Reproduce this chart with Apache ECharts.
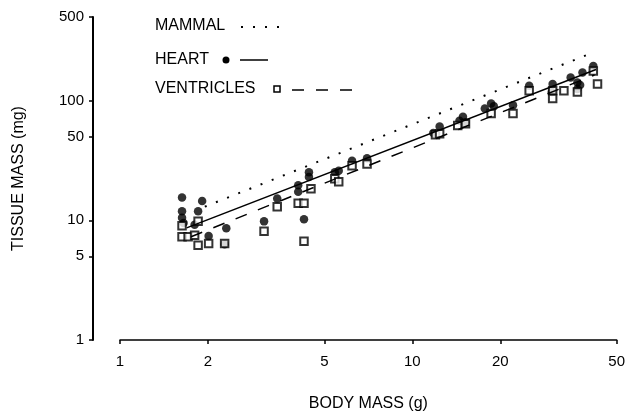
<!DOCTYPE html>
<html>
<head>
<meta charset="utf-8">
<script src="https://cdn.jsdelivr.net/npm/echarts@6/dist/echarts.min.js"></script>
<style>
    html, body { margin: 0; padding: 0; background: #fff; }
    #main { width: 628px; height: 417px; }
</style>
</head>
<body>
<div id="main"></div>
<script>
// 刻度
const xTicks = [1, 2, 5, 10, 20, 50];
const yTicks = [1, 5, 10, 50, 100, 500];

// 心脏 (实心圆) [体重 g, 组织重 mg]
const heartPoints = [
    [1.63, 15.5], [1.63, 11.9], [1.63, 10.5], [1.65, 9.5], [1.91, 14.5],
    [1.85, 11.9], [1.80, 9.2], [2.01, 7.4], [2.31, 8.6], [2.28, 6.3],
    [3.11, 9.8], [3.45, 15.2], [4.07, 19.6], [4.07, 17.3], [4.26, 10.2],
    [4.43, 25.2], [4.43, 23.0], [5.43, 25.2], [5.6, 26], [6.22, 31.4],
    [7.0, 33.0], [11.8, 53.6], [12.4, 60.8], [14.9, 73.5], [14.5, 68],
    [15.2, 66], [18.6, 94.5], [17.7, 86], [19, 90], [22.1, 91.6],
    [25.1, 133], [30.2, 138], [30, 118], [34.8, 156], [36.7, 142],
    [36.7, 125], [37.5, 135], [38.2, 172], [41.6, 195]
];

// 心室 (空心方块)
const ventriclePoints = [
    [1.63, 7.3], [1.63, 9.0], [1.71, 7.3], [1.80, 7.5], [1.85, 9.8],
    [1.85, 6.2], [2.01, 6.4], [2.28, 6.4], [3.11, 8.1], [3.45, 13.0],
    [4.07, 13.9], [4.26, 13.9], [4.26, 6.7], [4.5, 18.4], [5.43, 22.2],
    [5.6, 21], [6.22, 28.6], [7.0, 29.5], [12.0, 52], [12.4, 53],
    [14.3, 62], [15.2, 64], [18.6, 78], [22.1, 78], [25.1, 121],
    [30.2, 121], [30.2, 104], [33.0, 121], [36.7, 118], [41.6, 177],
    [43, 138]
];

// 回归线
const mammalLine = [[1.95, 13.0], [41.3, 251]];
const heartLine = [[1.69, 8.65], [42.5, 182]];
const ventricleLine = [[1.75, 7.3], [42, 164]];

const font = 'Liberation Sans, Arial, sans-serif';

var chart = echarts.init(document.getElementById('main'), null, { renderer: 'canvas' });

chart.setOption({
    animation: false,
    backgroundColor: '#fff',
    grid: { left: 120, right: 10, top: 17, bottom: 71 },
    xAxis: {
        type: 'log',
        min: 1,
        max: 50,
        name: 'BODY MASS (g)',
        nameLocation: 'middle',
        nameGap: 56,
        nameTextStyle: { fontFamily: font, fontSize: 16, color: '#000' },
        axisLine: { lineStyle: { color: '#000', width: 1.5 } },
        axisTick: { length: 4, customValues: xTicks, lineStyle: { color: '#000', width: 1.5 } },
        axisLabel: { customValues: xTicks, margin: 14, fontFamily: font, fontSize: 15, color: '#000' },
        splitLine: { show: false },
        minorTick: { show: false }
    },
    yAxis: {
        type: 'log',
        min: 1,
        max: 500,
        offset: 27,
        name: 'TISSUE MASS (mg)',
        nameLocation: 'middle',
        nameGap: 66,
        nameTextStyle: { fontFamily: font, fontSize: 16, color: '#000' },
        axisLine: { show: true, lineStyle: { color: '#000', width: 2 } },
        axisTick: { show: true, length: 4, customValues: yTicks, lineStyle: { color: '#000', width: 1.5 } },
        axisLabel: { customValues: yTicks, margin: 9, fontFamily: font, fontSize: 15, color: '#000' },
        splitLine: { show: false }
    },
    // 图例
    graphic: [
        { type: 'text', left: 155, top: 18, style: { text: 'MAMMAL', font: '16px ' + font, fill: '#000' } },
        { type: 'line', shape: { x1: 241, y1: 27, x2: 281, y2: 27 }, style: { stroke: '#000', lineWidth: 2, lineDash: [2, 10] } },
        { type: 'text', left: 155, top: 52, style: { text: 'HEART', font: '16px ' + font, fill: '#000' } },
        { type: 'circle', shape: { cx: 226, cy: 60, r: 3.5 }, style: { fill: '#000' } },
        { type: 'line', shape: { x1: 240, y1: 60, x2: 268, y2: 60 }, style: { stroke: '#000', lineWidth: 1.5 } },
        { type: 'text', left: 155, top: 81, style: { text: 'VENTRICLES', font: '16px ' + font, fill: '#000' } },
        { type: 'rect', shape: { x: 274, y: 86, width: 6, height: 6 }, style: { fill: '#fff', stroke: '#000', lineWidth: 1.5 } },
        { type: 'line', shape: { x1: 292, y1: 90, x2: 354, y2: 90 }, style: { stroke: '#000', lineWidth: 1.5, lineDash: [12, 12] } }
    ],
    series: [
        {
            name: 'MAMMAL',
            type: 'line',
            data: mammalLine,
            symbol: 'none',
            lineStyle: { color: '#000', width: 2, type: [2, 10] }
        },
        {
            name: 'HEART line',
            type: 'line',
            data: heartLine,
            symbol: 'none',
            lineStyle: { color: '#000', width: 1.5 }
        },
        {
            name: 'VENTRICLES line',
            type: 'line',
            data: ventricleLine,
            symbol: 'none',
            lineStyle: { color: '#000', width: 1.5, type: [12, 12] }
        },
        {
            name: 'HEART',
            type: 'scatter',
            data: heartPoints,
            symbol: 'circle',
            symbolSize: 8.5,
            itemStyle: { color: '#000' }
        },
        {
            name: 'VENTRICLES',
            type: 'scatter',
            data: ventriclePoints,
            symbol: 'rect',
            symbolSize: 7.5,
            itemStyle: { color: '#fff', borderColor: '#000', borderWidth: 2 }
        }
    ]
});
</script>
</body>
</html>
